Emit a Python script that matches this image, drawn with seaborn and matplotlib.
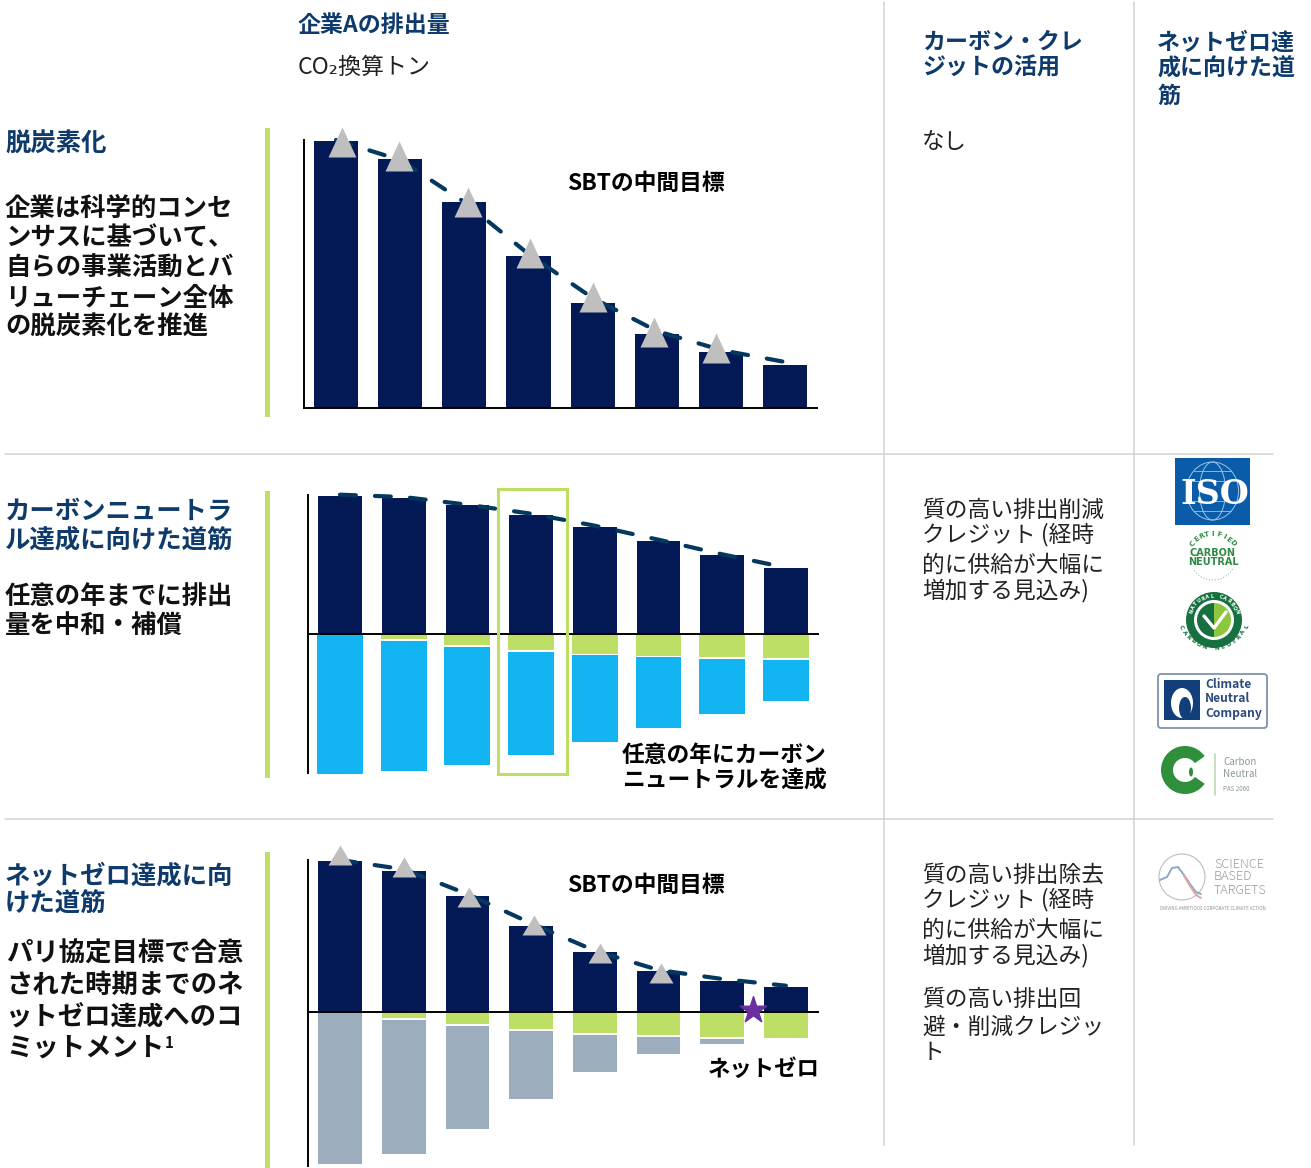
import numpy as np
import matplotlib
matplotlib.use("Agg")
import matplotlib.pyplot as plt
from matplotlib.patches import Rectangle, Circle, FancyBboxPatch, Wedge, Ellipse
import seaborn as sns

sns.set_theme(style="white")
plt.rcParams["font.family"] = ["Noto Sans CJK JP", "DejaVu Sans"]

NAVY = "#041A57"
SKY = "#12B5F2"
LIME = "#BEDF65"
SLATE = "#9CADBD"
TRI = "#BFBFBF"
PATH = "#04385F"
HEAD = "#0E3B6C"
RULE = "#D2D2D2"
PURPLE = "#6B2FA0"

# Decarbonisation panel
steps = list(range(8))
emissions_a = [266.7, 249.3, 205.7, 152, 105.3, 73.7, 56, 43.3]
path_a = [268, 248, 206, 154, 110, 77, 58, 46]
target_x_a = [0.09, 0.98, 2.05, 3.02, 4.0, 4.95, 5.93]
target_y_a = [266, 252, 206, 155, 111, 76, 60]

# Carbon-neutral panel
emissions_b = [138.4, 135.7, 129, 119.4, 106.7, 92.7, 78.7, 65.7]
path_x_b = [0, 1, 2, 3, 4, 5, 6, 6.88]
path_b = [139.3, 137, 129.3, 120.3, 108.3, 94.3, 79.7, 68]
abated_b = [0, 5, 11.3, 15.7, 19.7, 21.7, 22.7, 24]
offset_start_b = [0, 7, 13, 17.7, 21, 23.3, 24.7, 25.7]
offset_end_b = [140.3, 137.3, 131, 120.7, 107.7, 93.7, 79.7, 67]

# Net-zero panel
emissions_c = [151.3, 141, 116.3, 85.7, 59.7, 41.3, 31, 25.3]
path_c = [152, 142.7, 118, 88.7, 61.3, 42, 33, 26.3]
abated_c = [0, 6, 12, 17.3, 21, 23.3, 25, 26]
removal_start_c = [0, 7.7, 13.7, 19.3, 22.7, 25.3, 27, 26]
removal_end_c = [152, 142, 117, 86.7, 60, 41.7, 32, 26]
target_x_c = [0, 1, 2.03, 3.05, 4.08, 5.04]
target_y_c = [157.5, 145, 115.5, 87, 59, 39]
star_x = [6.48]
star_y = [2]

fig = plt.figure(figsize=(13.11, 11.68), dpi=100, facecolor="white")
W, H = 1311, 1168


def chart_axes(left, right, top, bottom, first_bar, pitch, zero_y):
    ax = fig.add_axes([left / W, 1 - bottom / H, (right - left) / W, (bottom - top) / H])
    ax.set_facecolor("none")
    ax._frame = (left, right, top, bottom, first_bar, pitch, zero_y)
    return ax


def finish(ax, spine_top, spine_bottom):
    left, right, top, bottom, first_bar, pitch, zero_y = ax._frame
    ax.set_xlim((left - first_bar) / pitch, (right - first_bar) / pitch)
    ax.set_ylim(zero_y - bottom, zero_y - top)
    ax.set(xticks=[], yticks=[], xlabel="", ylabel="")
    ax.spines["top"].set_visible(False)
    ax.spines["right"].set_visible(False)
    ax.spines["bottom"].set_position(("data", 0))
    ax.spines["left"].set_bounds(zero_y - spine_bottom, zero_y - spine_top)
    for name in ("left", "bottom"):
        ax.spines[name].set_color("black")
        ax.spines[name].set_linewidth(1.4)


def bars(ax, values, color, width=0.6875, base=None):
    kw = {} if base is None else {"bottom": base}
    sns.barplot(x=steps, y=values, color=color, saturation=1, width=width,
                errorbar=None, linewidth=0, ax=ax, **kw)


def dashed_path(ax, x, y):
    sns.lineplot(x=x, y=y, color=PATH, linewidth=3.0, ax=ax, errorbar=None,
                 linestyle=(0, (3.8, 4.6)), dash_capstyle="round", zorder=3)


def targets(ax, x, y, verts, size):
    sns.scatterplot(x=x, y=y, marker=verts, s=size, color=TRI, linewidth=0,
                    ax=ax, zorder=4, clip_on=False, legend=False)


def below(starts, ends):
    return np.array(ends, float) - np.array(starts, float)


# Panel 1
ax1 = chart_axes(304, 817, 110, 410, 336, 64.15, 408)
bars(ax1, emissions_a, NAVY)
dashed_path(ax1, steps, path_a)
targets(ax1, target_x_a, target_y_a, [(-14, -15), (14, -15), (0, 15)], 466)
finish(ax1, 140, 408)

# Panel 2
ax2 = chart_axes(308, 818, 485, 780, 340, 63.7, 634)
bars(ax2, emissions_b, NAVY)
bars(ax2, -np.array(abated_b), LIME, width=0.72)
bars(ax2, -below(offset_start_b, offset_end_b), SKY, width=0.72,
     base=-np.array(offset_start_b))
dashed_path(ax2, path_x_b, path_b)
finish(ax2, 495, 773)

# Panel 3
ax3 = chart_axes(308, 818, 840, 1168, 340, 63.7, 1012)
bars(ax3, emissions_c, NAVY)
bars(ax3, -np.array(abated_c), LIME)
bars(ax3, -below(removal_start_c, removal_end_c), SLATE,
     base=-np.array(removal_start_c))
dashed_path(ax3, steps, path_c)
targets(ax3, target_x_c, target_y_c, [(-12, -10), (12, -10), (0, 10)], 298)
sns.scatterplot(x=star_x, y=star_y, marker="*", s=400, color=PURPLE, linewidth=1.0,
                edgecolor=PURPLE, ax=ax3, zorder=6, clip_on=False, legend=False)
finish(ax3, 860, 1166)

# Page overlay in pixel coordinates: rules, wording and logos
page = fig.add_axes([0, 0, 1, 1], zorder=5)
page.set_xlim(0, W)
page.set_ylim(H, 0)
page.axis("off")
page.patch.set_alpha(0)

for x in (884, 1134):
    page.plot([x, x], [2, 1145], color=RULE, lw=1.1)
for y in (454, 819):
    page.plot([5, 1273], [y, y], color=RULE, lw=1.1)
for top, bottom in ((128, 417), (491, 778), (852, 1168)):
    page.add_patch(Rectangle((265, top), 5, bottom - top, color=LIME, lw=0))
page.add_patch(Rectangle((498, 489), 69, 285, fill=False, ec=LIME, lw=2.2))


def write(x, y, text, px, weight="normal", color="black", **kw):
    kw.setdefault("ha", "left")
    page.text(x, y + 2, text, fontsize=px * 0.72, fontweight=weight, color=color,
              va="center", **kw)


def arc_text(cx, cy, r, text, start, end, size, color, weight="bold"):
    # Letters spread along a circle; angles in degrees, measured clockwise on the page.
    for ch, a in zip(text, np.linspace(start, end, len(text))):
        t = np.deg2rad(a)
        rot = -(a + 90) if np.sin(t) < 0 else -(a - 90)
        page.text(cx + r * np.cos(t), cy + r * np.sin(t), ch, fontsize=size, color=color,
                  fontweight=weight, family="DejaVu Sans", ha="center", va="center",
                  rotation=rot, rotation_mode="anchor")


write(298, 24, "企業Aの排出量", 23, "bold", HEAD)
write(298, 65, "CO₂換算トン", 23, color="#222222")
for y, t in ((40, "カーボン・クレ"), (66, "ジットの活用")):
    write(922, y, t, 23, "bold", HEAD)
for y, t in ((41, "ネットゼロ達"), (67, "成に向けた道"), (94, "筋")):
    write(1157, y, t, 23, "bold", HEAD)
write(922, 140, "なし", 22.5, color="#222222")

write(5, 142, "脱炭素化", 25.4, "bold", HEAD)
for y, t in ((206, "企業は科学的コンセ"), (236, "ンサスに基づいて、"),
             (266, "自らの事業活動とバ"), (297, "リューチェーン全体"),
             (325, "の脱炭素化を推進")):
    write(5, y, t, 25.4, "bold", "#111111")
for y, t in ((510, "カーボンニュートラ"), (538, "ル達成に向けた道筋")):
    write(5, y, t, 25.4, "bold", HEAD)
for y, t in ((595, "任意の年までに排出"), (623, "量を中和・補償")):
    write(5, y, t, 25.4, "bold", "#111111")
for y, t in ((874, "ネットゼロ達成に向"), (902, "けた道筋")):
    write(5, y, t, 25.4, "bold", HEAD)
for y, t in ((952, "パリ協定目標で合意"), (983, "された時期までのネ"),
             (1015, "ットゼロ達成へのコ"), (1046, "ミットメント")):
    write(6, y, t, 26.4, "bold", "#111111")
write(165, 1041, "1", 15, "bold", "#111111")

for y, t in ((508, "質の高い排出削減"), (533, "クレジット (経時"),
             (563, "的に供給が大幅に"), (589, "増加する見込み)"),
             (873, "質の高い排出除去"), (898, "クレジット (経時"),
             (928, "的に供給が大幅に"), (954, "増加する見込み)"),
             (997, "質の高い排出回"), (1025, "避・削減クレジッ"), (1050, "ト")):
    write(922, y, t, 22.7, color="#222222")

write(567, 181, "SBTの中間目標", 22.8, "bold")
write(567, 883, "SBTの中間目標", 22.8, "bold")
write(622, 753, "任意の年にカーボン", 22.8, "bold")
write(622, 779, "ニュートラルを達成", 22.8, "bold")
write(708, 1067, "ネットゼロ", 22.4, "bold")

# ISO logo
page.add_patch(Rectangle((1175, 458), 75, 67, color="#0A5CA8", lw=0))
page.add_patch(Ellipse((1212.5, 491), 52, 58, fill=False, ec="#9CC2E6", lw=0.7))
page.add_patch(Ellipse((1212.5, 491), 26, 58, fill=False, ec="#9CC2E6", lw=0.7))
for dy in (-20, -10, 10, 20):
    half = 26 * np.sqrt(1 - (dy / 29) ** 2)
    page.plot([1212.5 - half, 1212.5 + half], [491 + dy, 491 + dy], color="#9CC2E6", lw=0.6)
page.text(1215, 494, "ISO", fontsize=24, fontweight="bold", family="DejaVu Serif",
          color="white", ha="center", va="center")

# Certified carbon neutral seal
GREEN = "#2E8B45"
arc_text(1213, 560, 26, "CERTIFIED", -140, -40, 5, GREEN)
page.text(1213, 553, "CARBON", fontsize=7, fontweight="bold", family="DejaVu Sans",
          color=GREEN, ha="center", va="center")
page.text(1213, 562, "NEUTRAL", fontsize=7, fontweight="bold", family="DejaVu Sans",
          color=GREEN, ha="center", va="center")
theta = np.linspace(0.15 * np.pi, 0.85 * np.pi, 30)
page.plot(1213 + 22 * np.cos(theta), 560 + 20 * np.sin(theta), color="#9FBFA5", lw=0.8, ls=":")

# Natural carbon seal
page.add_patch(Circle((1214, 620), 28, color="#17703F", lw=0))
page.add_patch(Circle((1214, 620), 20, color="white", lw=0))
page.add_patch(Wedge((1214, 620), 17, 90, 270, color="#17703F", lw=0))
page.add_patch(Wedge((1214, 620), 17, 270, 90, color="#8DC63F", lw=0))
page.plot([1204, 1214, 1226], [616, 628, 612], color="white", lw=2.4)
arc_text(1214, 620, 24, "NATURAL CARBON", -160, -20, 3.6, "white")
arc_text(1214, 612, 36, "CARBON NEUTRAL", 155, 25, 4.2, "#17703F")

# Climate Neutral Company badge
page.add_patch(FancyBboxPatch((1160, 676), 105, 50, boxstyle="round,pad=2,rounding_size=3",
                              fill=False, ec="#7D93B0", lw=1.3))
page.add_patch(Rectangle((1164, 680), 36, 40, color="#123E7C", lw=0))
page.add_patch(Ellipse((1182, 703), 22, 30, color="white", lw=0))
page.add_patch(Ellipse((1185, 708), 12, 22, color="#123E7C", lw=0))
for y, t in ((685, "Climate"), (699, "Neutral"), (713, "Company")):
    page.text(1205, y, t, fontsize=8.7, fontweight="bold", color="#2C4A7C", va="center")

# PAS 2060 badge
page.add_patch(Wedge((1185, 770), 24, 35, 325, width=12, color="#2F8F3A", lw=0))
page.add_patch(Ellipse((1191, 772), 4, 9, color="#2F8F3A", lw=0))
page.plot([1215, 1215], [754, 795], color="#BFD9B5", lw=1.2)
page.text(1223, 762, "Carbon", fontsize=7, color="#8A9A8E", va="center")
page.text(1223, 774, "Neutral", fontsize=7, color="#8A9A8E", va="center")
page.text(1223, 789, "PAS 2060", fontsize=4.5, color="#8A9A8E", va="center")

# Science Based Targets logo
page.add_patch(Circle((1182, 877), 23, fill=False, ec="#BDBDBD", lw=0.8))
wave_x = np.array([1160, 1167, 1172, 1178, 1184, 1190, 1196, 1201])
page.plot(wave_x, [880, 877, 868, 867, 875, 884, 892, 894], color="#8FA9C4", lw=1.4)
page.plot(wave_x[4:], [876, 886, 895, 898], color="#E3A5A8", lw=1.4)
for y, t in ((864, "SCIENCE"), (877, "BASED"), (890, "TARGETS")):
    page.text(1214, y, t, fontsize=9, color="#9A9A9A", va="center", fontweight="light")
page.text(1213, 908, "DRIVING AMBITIOUS CORPORATE CLIMATE ACTION", fontsize=3.2,
          color="#8F8F8F", ha="center", va="center")

fig.savefig("out.png", dpi=100, facecolor="white")
